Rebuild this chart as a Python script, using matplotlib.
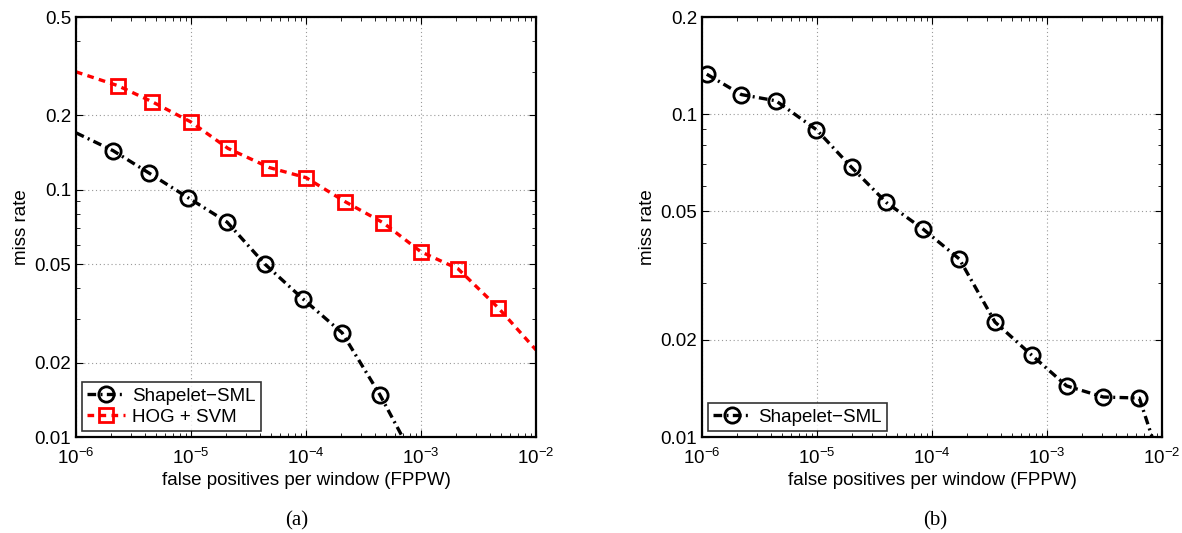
import matplotlib
matplotlib.use("Agg")
import matplotlib.pyplot as plt
from matplotlib.ticker import FixedLocator, FixedFormatter, LogLocator, NullFormatter

plt.rcParams['font.family'] = ['Liberation Sans', 'DejaVu Sans']
plt.rcParams['mathtext.fontset'] = 'custom'
plt.rcParams['mathtext.rm'] = 'Liberation Sans'
plt.rcParams['mathtext.it'] = 'Liberation Sans:italic'
plt.rcParams['mathtext.bf'] = 'Liberation Sans:bold'

# ---- data (a) ----
sml_a_x = [1e-6, 2.1e-6, 4.3e-6, 9.4e-6, 2.06e-5, 4.4e-5, 9.4e-5, 2.06e-4, 4.4e-4, 8.0e-4]
sml_a_y = [0.170, 0.144, 0.117, 0.093, 0.074, 0.050, 0.0362, 0.0264, 0.0148, 0.0088]
hog_x = [1e-6, 2.3e-6, 4.6e-6, 1e-5, 2.1e-5, 4.8e-5, 1e-4, 2.2e-4, 4.7e-4, 1e-3, 2.1e-3, 4.7e-3, 1e-2]
hog_y = [0.300, 0.264, 0.227, 0.188, 0.147, 0.123, 0.112, 0.0894, 0.0735, 0.0561, 0.0479, 0.0333, 0.0225]

# ---- data (b) ----
sml_b_x = [1.1e-6, 2.2e-6, 4.4e-6, 9.9e-6, 2.0e-5, 4.0e-5, 8.4e-5, 1.73e-4, 3.53e-4,
           7.4e-4, 1.48e-3, 3.09e-3, 6.35e-3, 8.6e-3]
sml_b_y = [0.133, 0.115, 0.110, 0.0895, 0.0684, 0.0533, 0.0440, 0.0356, 0.0227,
           0.0179, 0.0144, 0.0133, 0.0132, 0.0095]

xticks = [1e-6, 1e-5, 1e-4, 1e-3, 1e-2]
xticklabels = [r'$10^{-6}$', r'$10^{-5}$', r'$10^{-4}$', r'$10^{-3}$', r'$10^{-2}$']
yticks_a = [0.01, 0.02, 0.05, 0.1, 0.2, 0.5]
yticks_b = [0.01, 0.02, 0.05, 0.1, 0.2]

FS = 13.5
DASHDOT = (0, (2.6, 1.3, 0.6, 1.3))
DASHED = (0, (2.0, 1.6))

fig = plt.figure(figsize=(11.82, 5.33), dpi=100)
W, H = 1182, 533
axA = fig.add_axes([76 / W, (H - 437) / H, 460 / W, 420 / H])
axB = fig.add_axes([702 / W, (H - 437) / H, 460 / W, 420 / H])


def style(ax, ylim, yticks):
    ax.set_xscale('log')
    ax.set_yscale('log')
    ax.set_xlim(1e-6, 1e-2)
    ax.set_ylim(*ylim)
    ax.xaxis.set_major_locator(FixedLocator(xticks))
    ax.xaxis.set_major_formatter(FixedFormatter(xticklabels))
    ax.xaxis.set_minor_locator(LogLocator(base=10, subs=range(2, 10), numticks=20))
    ax.xaxis.set_minor_formatter(NullFormatter())
    ax.yaxis.set_major_locator(FixedLocator(yticks))
    ax.yaxis.set_major_formatter(FixedFormatter([('%g' % v) for v in yticks]))
    ax.yaxis.set_minor_locator(LogLocator(base=10, subs=range(2, 10), numticks=20))
    ax.yaxis.set_minor_formatter(NullFormatter())
    ax.tick_params(which='both', direction='in', top=True, right=True, labelsize=FS)
    ax.tick_params(which='major', length=5, width=0.8)
    ax.tick_params(axis='x', which='major', pad=8)
    ax.tick_params(axis='y', which='major', pad=3.5)
    ax.tick_params(which='minor', length=3, width=0.6)
    ax.grid(True, which='major', linestyle=(0, (1, 2.5)), color='#999999', linewidth=0.8)
    for s in ax.spines.values():
        s.set_linewidth(1.6)
    ax.set_xlabel('false positives per window (FPPW)', fontsize=FS, labelpad=3)
    ax.set_ylabel('miss rate', fontsize=FS, labelpad=3)


style(axA, (0.01, 0.5), yticks_a)
style(axB, (0.01, 0.2), yticks_b)

axA.plot(sml_a_x, sml_a_y, color='black', linestyle=DASHDOT, linewidth=2.4,
         marker='o', markersize=11, markerfacecolor='none', markeredgewidth=2,
         markevery=list(range(1, len(sml_a_x) - 1)), label='Shapelet\u2212SML')
axA.plot(hog_x, hog_y, color='red', linestyle=DASHED, linewidth=2.4,
         marker='s', markersize=10, markerfacecolor='none', markeredgewidth=2,
         markevery=list(range(1, len(hog_x) - 1)), label='HOG + SVM')

axB.plot(sml_b_x, sml_b_y, color='black', linestyle=DASHDOT, linewidth=2.4,
         marker='o', markersize=11, markerfacecolor='none', markeredgewidth=2,
         markevery=list(range(0, len(sml_b_x) - 1)), label='Shapelet\u2212SML')

for ax in (axA, axB):
    leg = ax.legend(loc='lower left', fontsize=FS, frameon=True, fancybox=False,
                    edgecolor='black', borderaxespad=0.3, handlelength=2.0,
                    handletextpad=0.4, borderpad=0.3, labelspacing=0.2)
    leg.get_frame().set_linewidth(1.2)

fig.text(297 / W, 1 - 521 / H, '(a)', ha='center', va='center', fontsize=15,
         family=['Liberation Serif'])
fig.text(935 / W, 1 - 521 / H, '(b)', ha='center', va='center', fontsize=15,
         family=['Liberation Serif'])

fig.savefig('out.png', dpi=100)
